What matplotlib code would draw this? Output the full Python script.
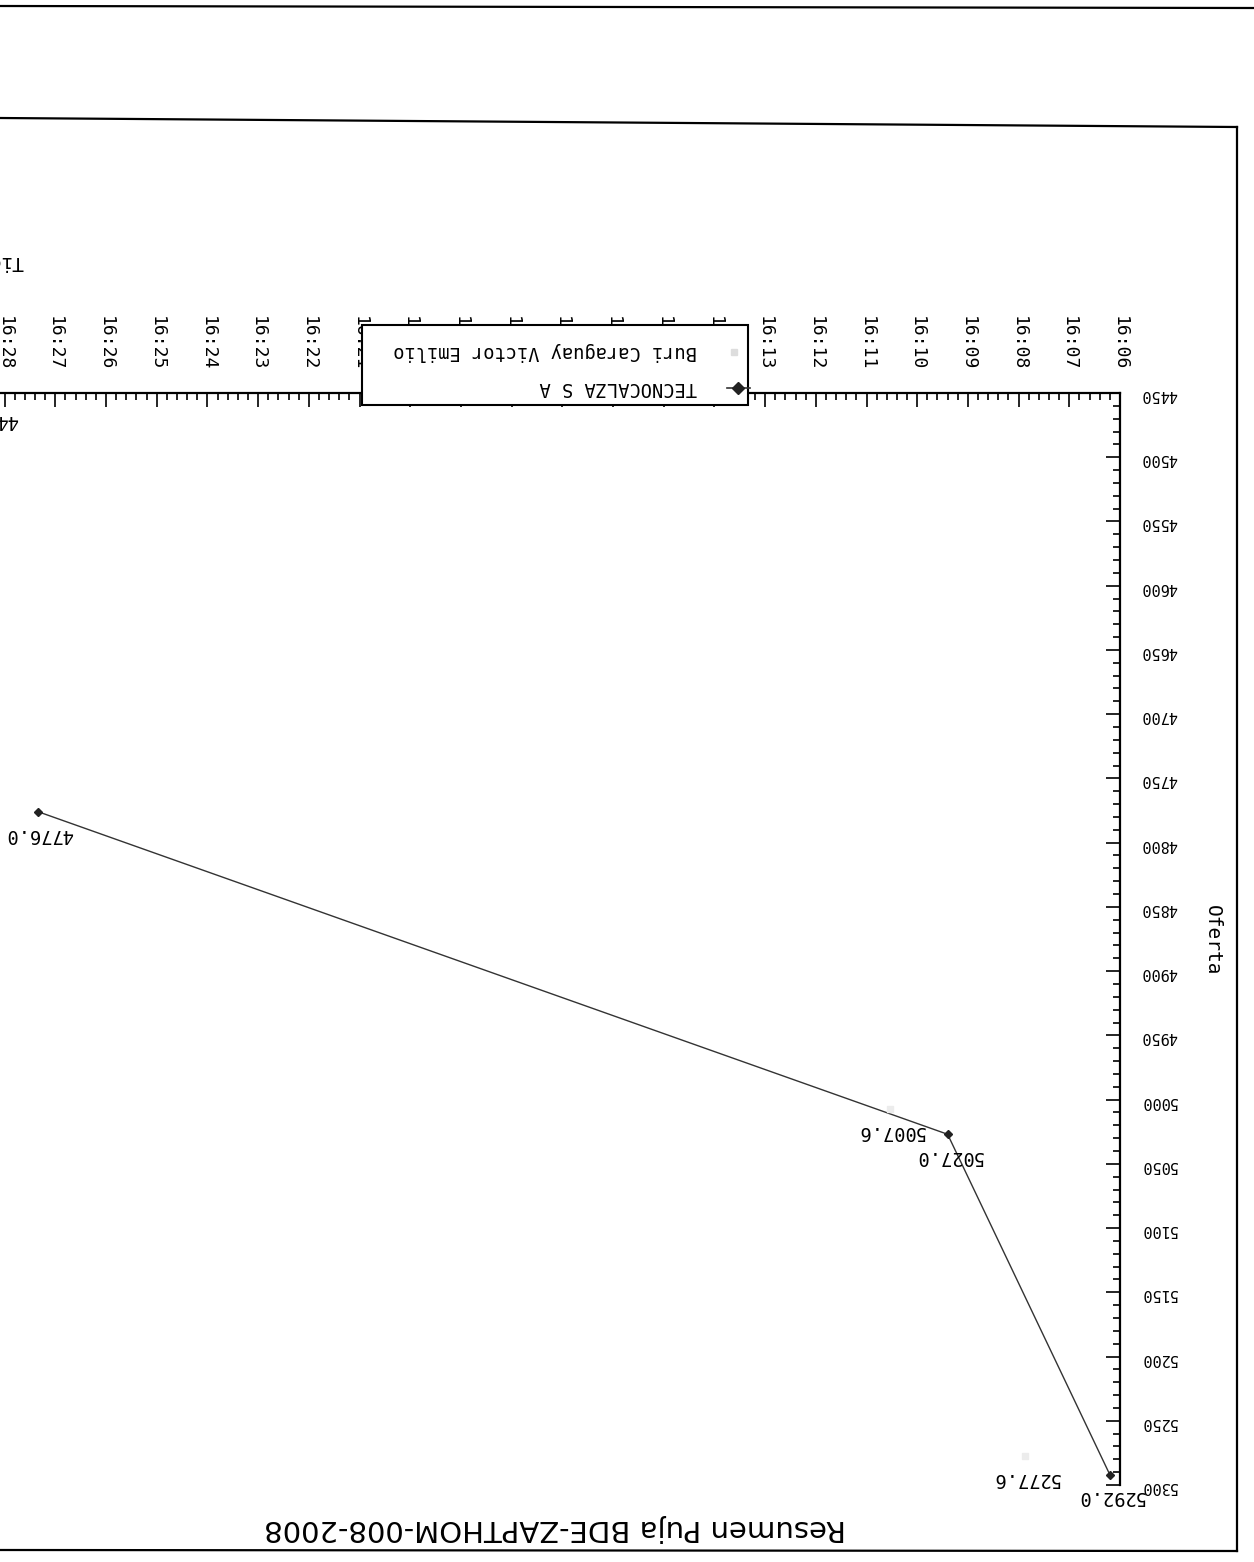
import datetime as dt
import matplotlib
matplotlib.use('Agg')
from matplotlib import pyplot as plt
from matplotlib import dates
from matplotlib.lines import Line2D
from matplotlib.patches import Rectangle

# the scanned page is upside down, so everything is drawn rotated by 180 degrees
W, H = 1254, 1562

title = 'Resumen Puja BDE-ZAPTHOM-008-2008'
y_label = 'Oferta'
x_label = 'Tiempo'

series_names = ['TECNOCALZA S A', 'Buri Caraguay Victor Emilio']
tecno_times = ['16:06:12', '16:09:24', '16:27:20']
tecno_bids = [5292.0, 5027.0, 4776.0]
buri_times = ['16:07:52', '16:10:32', '16:28:25']
buri_bids = [5277.6, 5007.6, 4454.0]

y_ticks = list(range(4450, 5301, 50))
x_start, x_end = '16:06:00', '16:30:00'

mono = 'DejaVu Sans Mono'


def to_time(t):
    return dt.datetime.strptime('2008-01-01 ' + t, '%Y-%m-%d %H:%M:%S')


def fx(px):
    return px / W


def fy(py):
    return 1 - py / H


def init_plot():
    fig = plt.figure(figsize=(W / 100, H / 100), dpi=100)
    left = 1120 - 24 * 50.7
    ax = fig.add_axes([fx(left), fy(1485), fx(1120) - fx(left), fy(393) - fy(1485)])
    ax.set_xlim(to_time(x_start), to_time(x_end))
    ax.set_ylim(y_ticks[0], y_ticks[-1])
    ax.invert_xaxis()
    ax.invert_yaxis()
    for side in ['left', 'bottom']:
        ax.spines[side].set_visible(False)
    for side in ['top', 'right']:
        ax.spines[side].set_linewidth(1.6)
    ax.xaxis.tick_top()
    ax.yaxis.tick_right()
    ax.set_yticks(y_ticks)
    ax.yaxis.set_minor_locator(matplotlib.ticker.MultipleLocator(10))
    ax.xaxis.set_major_locator(dates.MinuteLocator())
    ax.xaxis.set_minor_locator(dates.SecondLocator(bysecond=[0, 12, 24, 36, 48]))
    ax.xaxis.set_major_formatter(dates.DateFormatter('%H:%M'))
    ax.tick_params(which='both', direction='in', width=1.2)
    ax.tick_params(which='major', length=10)
    ax.tick_params(which='minor', length=5)
    ax.tick_params(axis='x', which='major', pad=16, labelsize=13, labelrotation=270)
    ax.tick_params(axis='y', which='major', pad=15, labelsize=11, labelrotation=180)
    for lab in ax.get_xticklabels() + ax.get_yticklabels():
        lab.set_family(mono)
    return fig, ax


def plot_bids(ax):
    t_times = [to_time(t) for t in tecno_times]
    b_times = [to_time(t) for t in buri_times]
    ax.plot(t_times, tecno_bids, color='#333333', lw=1, marker='D', ms=4,
            mfc='#222222', mec='#222222')
    # second bidder came out almost blank on the scan: faint markers only
    ax.plot(b_times, buri_bids, linestyle='none', marker='s', ms=4,
            mfc='#ececec', mec='#ececec')
    for times, bids in [(t_times, tecno_bids), (b_times, buri_bids)]:
        for t, v in zip(times, bids):
            ax.annotate(f'{v:.1f}', (t, v), xytext=(25, -16), textcoords='offset points',
                        rotation=180, rotation_mode='anchor', ha='left', va='center',
                        family=mono, fontsize=13.5, annotation_clip=False)


def draw_legend(fig):
    fig.add_artist(Rectangle((fx(362), fy(405)), fx(748) - fx(362), fy(325) - fy(405),
                             facecolor='white', edgecolor='black', lw=1.5))
    fig.add_artist(Line2D([fx(727), fx(750)], [fy(388)] * 2, color='#333333', lw=1.2))
    fig.add_artist(Line2D([fx(738)], [fy(388)], marker='D', ms=6, color='#222222'))
    fig.add_artist(Line2D([fx(734)], [fy(352)], marker='s', ms=5, color='#dddddd'))
    for name, py in zip(series_names, [388, 352]):
        fig.text(fx(697), fy(py), name, rotation=180, rotation_mode='anchor',
                 ha='left', va='center', family=mono, fontsize=13.5)


def draw_page(fig):
    frame = [([0, 1237], [118, 127]), ([1237, 1237], [127, 1551]), ([0, 1237], [1550, 1551]),
             ([0, 1254], [6, 8])]
    for xs, ys in frame:
        fig.add_artist(Line2D([fx(x) for x in xs], [fy(y) for y in ys], color='black', lw=1.6))
    fig.text(fx(555), fy(1528), title, rotation=180, ha='center', va='center',
             family='DejaVu Sans', fontsize=21)
    fig.text(fx(1212), fy(940), y_label, rotation=270, ha='center', va='center',
             family=mono, fontsize=14)
    fig.text(fx(23), fy(262), x_label, rotation=180, rotation_mode='anchor',
             ha='left', va='center', family=mono, fontsize=14)


if __name__ == '__main__':
    fig, ax = init_plot()
    plot_bids(ax)
    draw_legend(fig)
    draw_page(fig)
    fig.savefig('out.png', dpi=100, facecolor='white')
